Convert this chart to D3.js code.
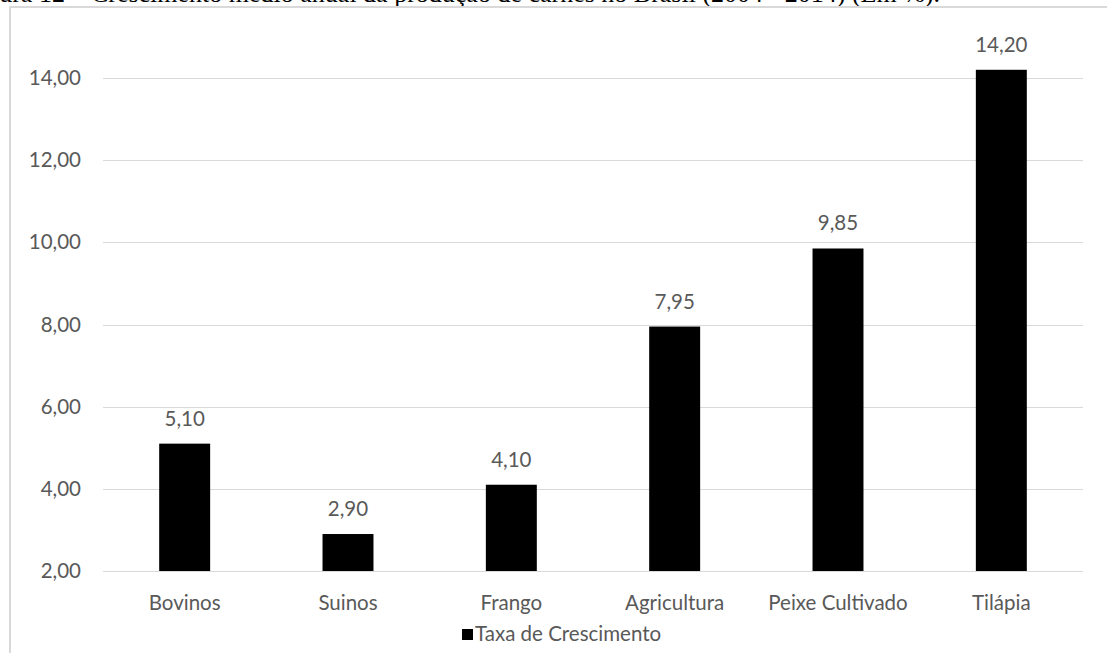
<!DOCTYPE html>
<html>
<head>
<meta charset="utf-8">
<script src="https://cdn.jsdelivr.net/npm/d3@7"></script>
<style>
  html, body { margin: 0; padding: 0; background: #fff; overflow: hidden; }
  svg { display: block; }
</style>
</head>
<body>
<svg id="chart" width="1107" height="653"></svg>
<script>
// Average annual growth of meat production in Brazil (2004-2014), in %
const categories = ["Bovinos", "Suinos", "Frango", "Agricultura", "Peixe Cultivado", "Tilápia"];
const values = [5.10, 2.90, 4.10, 7.95, 9.85, 14.20];
const yTicks = [2, 4, 6, 8, 10, 12, 14];
const seriesName = "Taxa de Crescimento";
const titleText = "Figura 12 – Crescimento médio anual da produção de carnes no Brasil (2004 - 2014) (Em %).";

const svg = d3.select("#chart");
const W = 1107, H = 653;
const fmt = v => d3.format(".2f")(v).replace(".", ",");
const labelFont = "Lato, 'Open Sans', sans-serif";
const labelSize = 20.5;
const labelColor = "#595959";

// Caption line above the chart frame (runs off the page top)
svg.append("text")
  .attr("x", 940).attr("y", 2)
  .attr("text-anchor", "end")
  .attr("font-family", "'Liberation Serif', 'Times New Roman', serif")
  .attr("font-size", 26)
  .attr("fill", "#000")
  .text(titleText);

// Chart frame: left and top borders
svg.append("line").attr("x1", 10).attr("x2", 10).attr("y1", 7).attr("y2", H)
  .attr("stroke", "#d9d9d9").attr("stroke-width", 2);
svg.append("line").attr("x1", 9).attr("x2", W).attr("y1", 7).attr("y2", 7)
  .attr("stroke", "#d9d9d9").attr("stroke-width", 2);

const plot = { left: 103, right: 1083, top: 78, bottom: 571 };

const x = d3.scaleBand()
  .domain(categories)
  .range([plot.left, plot.right])
  .paddingInner(0.688)
  .paddingOuter(0.344);

const y = d3.scaleLinear()
  .domain([2, 14])
  .range([plot.bottom, plot.top]);

// Horizontal gridlines
svg.append("g")
  .selectAll("line")
  .data(yTicks)
  .join("line")
  .attr("x1", plot.left).attr("x2", plot.right)
  .attr("y1", d => Math.round(y(d)) + 0.5).attr("y2", d => Math.round(y(d)) + 0.5)
  .attr("stroke", "#d9d9d9").attr("stroke-width", 1);

// Y axis tick labels
const yAxis = d3.axisLeft(y).tickValues(yTicks).tickFormat(fmt).tickSize(0).tickPadding(0);
const gy = svg.append("g").attr("transform", `translate(81,0)`).call(yAxis);
gy.select(".domain").remove();
gy.selectAll("text")
  .attr("font-family", labelFont).attr("font-size", labelSize).attr("fill", labelColor);

// Bars
svg.append("g")
  .selectAll("rect")
  .data(values)
  .join("rect")
  .attr("x", (d, i) => x(categories[i]))
  .attr("width", x.bandwidth())
  .attr("y", d => y(d))
  .attr("height", d => y(2) - y(d))
  .attr("fill", "#000");

// Value labels above bars
svg.append("g")
  .selectAll("text")
  .data(values)
  .join("text")
  .attr("x", (d, i) => x(categories[i]) + x.bandwidth() / 2)
  .attr("y", d => y(d) - 18)
  .attr("text-anchor", "middle")
  .attr("font-family", labelFont).attr("font-size", labelSize).attr("fill", labelColor)
  .text(fmt);

// Category axis labels
const xAxis = d3.axisBottom(x).tickSize(0).tickPadding(0);
const gx = svg.append("g").attr("transform", `translate(0,${plot.bottom + 24})`).call(xAxis);
gx.select(".domain").remove();
gx.selectAll("text")
  .attr("font-family", labelFont).attr("font-size", labelSize).attr("fill", labelColor);

// Legend
const lg = svg.append("g").attr("transform", "translate(462,629)");
lg.append("rect").attr("x", 0).attr("y", 0).attr("width", 11).attr("height", 11).attr("fill", "#000");
lg.append("text").attr("x", 13).attr("y", 12)
  .attr("font-family", labelFont).attr("font-size", labelSize).attr("fill", labelColor)
  .text(seriesName);
</script>
</body>
</html>
